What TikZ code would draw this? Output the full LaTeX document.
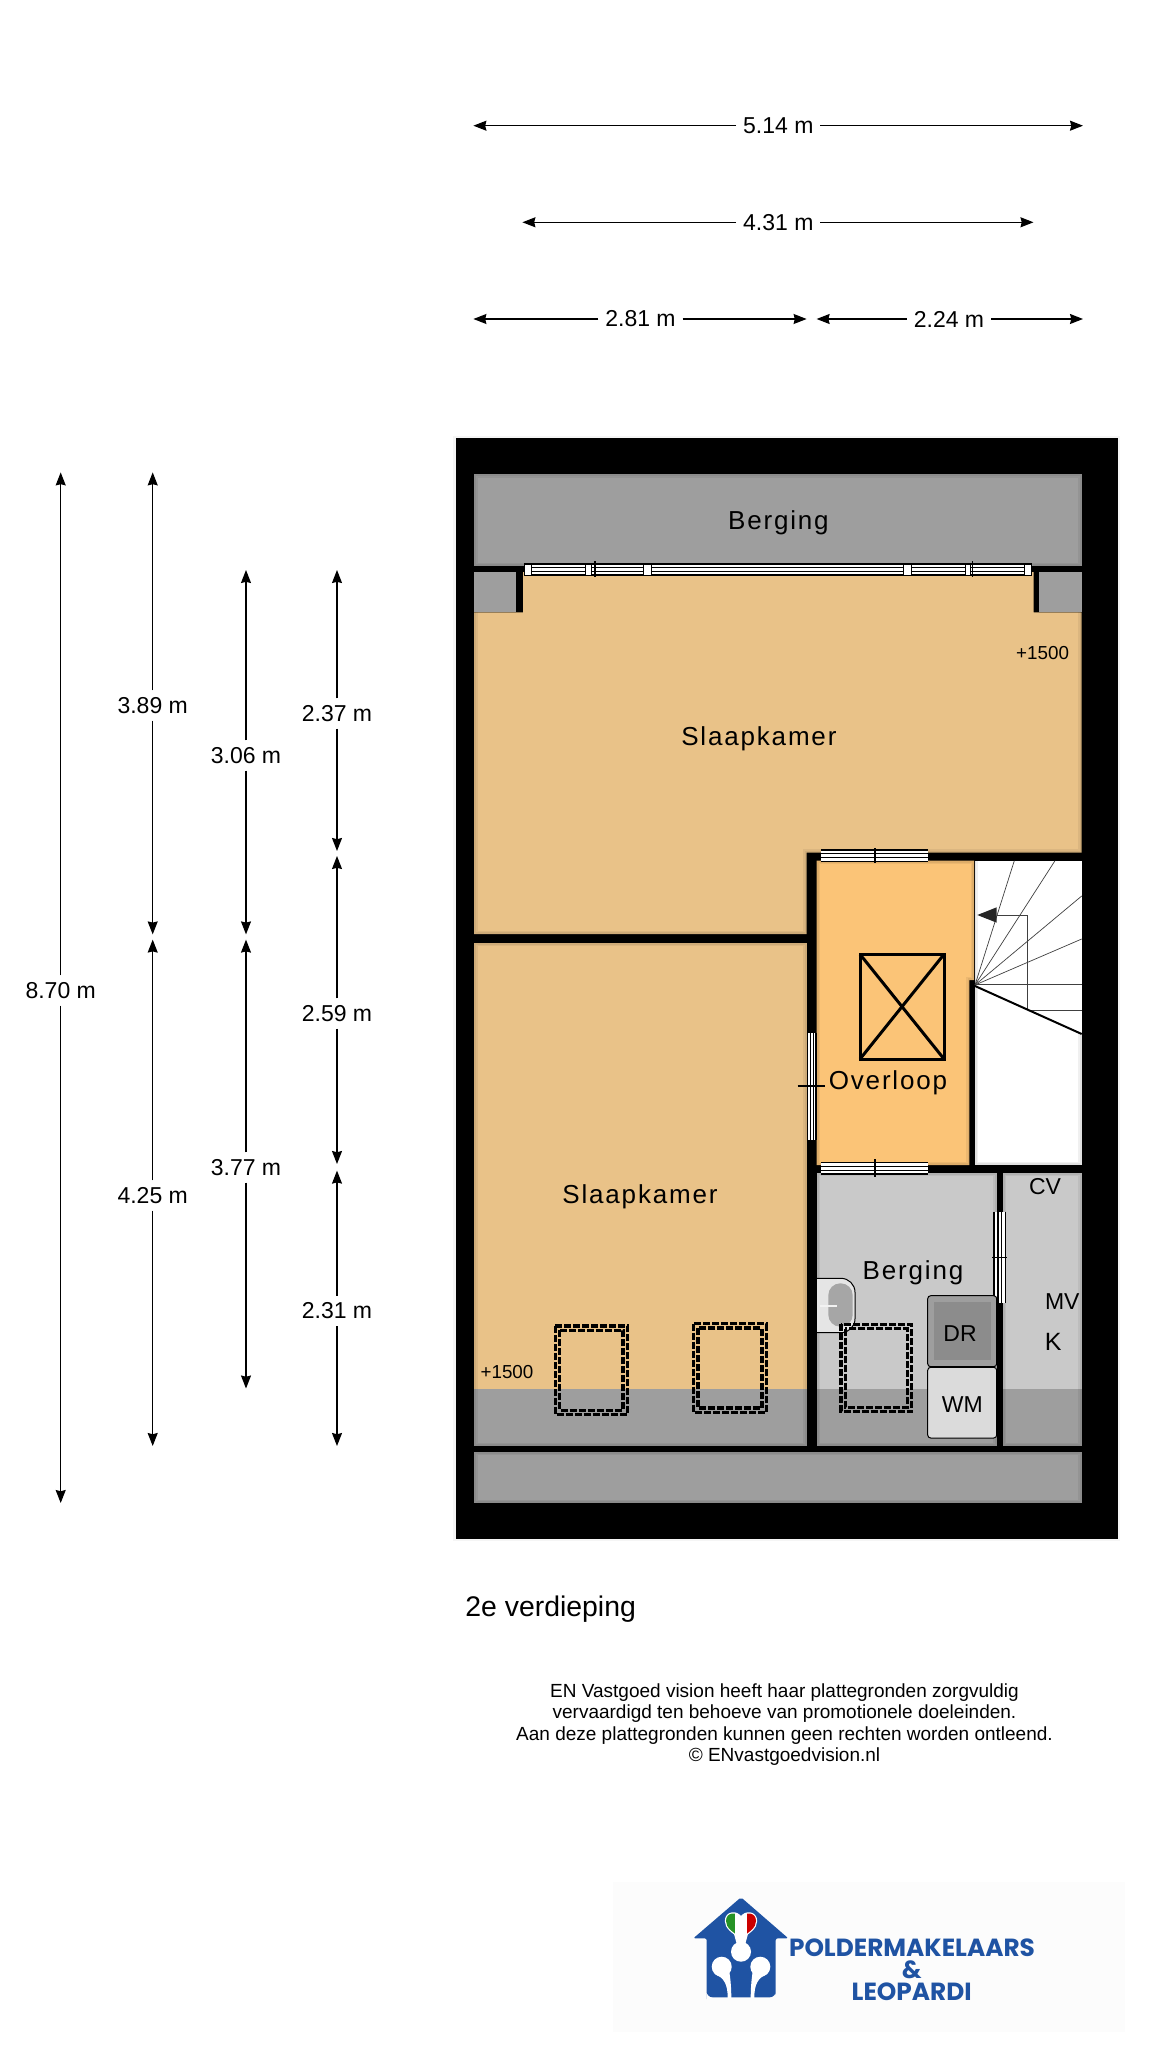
\documentclass[tikz,border=0pt]{standalone}
\usepackage{fontspec}
\usetikzlibrary{arrows.meta}
\setmainfont{Liberation Sans}
\newfontfamily\roomfont[LetterSpace=7]{Liberation Sans}
\newfontfamily\logofont{Poppins}
\definecolor{roomorange}{HTML}{E9C288}
\definecolor{halorange}{HTML}{FBC477}
\definecolor{atticgray}{HTML}{9E9E9E}
\definecolor{storegray}{HTML}{C9C9C9}
\definecolor{logoblue}{HTML}{1F53A3}
\tikzstyle{dimlabel} = [font=\fontsize{11.5}{13}\selectfont, inner xsep=3.5pt, inner ysep=3.5pt, outer sep=0pt]
\tikzstyle{dimarrow} = [-{Stealth[length=6.5pt,width=5pt,inset=.6pt]}, line width=.6pt, black]
\tikzstyle{roomlabel} = [font=\roomfont\fontsize{13}{15}\selectfont, inner sep=0pt]
\tikzstyle{kitlabel} = [font=\fontsize{11.5}{13}\selectfont, inner sep=0pt]
\tikzstyle{levellabel} = [font=\fontsize{9.4}{11}\selectfont, inner sep=0pt]
\tikzstyle{roomshade} = [draw=black, draw opacity=.06, line width=3.5pt, preaction={draw=black, draw opacity=.06, line width=1.8pt}]
\tikzstyle{winpane} = [draw=black, fill=white, line width=.5pt]
\tikzstyle{winline} = [draw=black, line width=.6pt]
\tikzstyle{hatchline} = [draw=black, line width=1.7pt, dash pattern=on 3.5pt off 1pt]
\tikzstyle{appliance} = [draw=black, line width=.5pt, rounded corners=1.5pt]
\tikzstyle{logotext} = [font=\logofont\bfseries\fontsize{12.4}{14}\selectfont, text=logoblue, inner sep=0pt, text height=8pt, text depth=0pt]

\begin{document}
\begin{tikzpicture}[x=.5pt, y=-.5pt]
		\useasboundingbox (0,0) rectangle (1152,2048);
		\fill[white] (0,0) rectangle (1152,2048);
		%outer walls, rooms are cut out of this
		\fill[black!4] (453,436) rectangle (1120,1541);
		\fill[black] (456,438.5) rectangle (1117.7,1539);

		\fill[atticgray] (474,474) rectangle (1081.7,566);
		\fill[atticgray] (474,572) rectangle (516.4,612.3);
		\fill[atticgray] (1039,572) rectangle (1081.7,612.3);
		\fill[roomorange] (474,612.3) -- (523,612.3) -- (523,572) -- (1033.5,572) -- (1033.5,612.3) -- (1081.7,612.3) -- (1081.7,852.7) -- (806.7,852.7) -- (806.7,934) -- (474,934) -- cycle;
		\fill[roomorange] (474,942.7) rectangle (806.7,1388.5);
		\fill[atticgray] (474,1388.5) rectangle (806.7,1446);
		\fill[halorange] (816.7,860.7) -- (974,860.7) -- (974,980) -- (969.3,980) -- (969.3,1165) -- (816.7,1165) -- cycle;
		\fill[white] (974.7,860.7) rectangle (1081.7,1165);
		\fill[storegray] (816.7,1172.7) rectangle (996.7,1388.7);
		\fill[atticgray] (816.7,1388.7) rectangle (996.7,1446);
		\fill[storegray] (1002.7,1172.7) rectangle (1081.7,1388.7);
		\fill[atticgray] (1002.7,1388.7) rectangle (1081.7,1446);
		\fill[atticgray] (474,1451.7) rectangle (1081.7,1503);

		%soft edges along the walls
		\draw[roomshade] (474,474) rectangle (1081.7,566);
		\draw[roomshade] (474,612.3) -- (474,934) -- (806.7,934) -- (806.7,852.7) -- (1081.7,852.7) -- (1081.7,612.3);
		\draw[roomshade] (474,942.7) rectangle (806.7,1446);
		\draw[roomshade] (816.7,860.7) -- (974,860.7) -- (974,980) -- (969.3,980) -- (969.3,1165) -- (816.7,1165) -- cycle;
		\draw[roomshade] (974.7,980) -- (974.7,1165) -- (1081.7,1165) -- (1081.7,1034);
		\draw[roomshade] (816.7,1172.7) rectangle (996.7,1446);
		\draw[roomshade] (1002.7,1172.7) rectangle (1081.7,1446);
		\draw[roomshade] (474,1451.7) rectangle (1081.7,1503);

		%window at the top
		\fill[white] (523.8,564) rectangle (1032.2,575);
		\draw[winline] (523.8,564) -- (1032.2,564);
		\draw[winline] (523.8,567.6) -- (1032.2,567.6);
		\draw[winline] (523.8,571.2) -- (1032.2,571.2);
		\draw[winline] (523.8,575) -- (1032.2,575);
		\draw[winpane] (524.6,564) rectangle (531.6,575);
		\draw[winpane] (585,564) rectangle (591,575);
		\draw[winpane] (643.5,564) rectangle (651.3,575);
		\draw[winpane] (903.8,564) rectangle (911.6,575);
		\draw[winpane] (965,564) rectangle (970,575);
		\draw[winpane] (1024,564) rectangle (1031.8,575);
		\draw[winline] (594.9,561.3) -- (594.9,576.7);
		\draw[winline] (972.8,561.3) -- (972.8,576.7);

		%windows in the inner walls
		\fill[white] (821.3,850) rectangle (928,861.3);
		\draw[winline] (821.3,850) -- (928,850);
		\draw[winline] (821.3,853.8) -- (928,853.8);
		\draw[winline] (821.3,857.5) -- (928,857.5);
		\draw[winline] (821.3,861.3) -- (928,861.3);
		\draw[winline] (875,848.3) -- (875,863.3);

		\fill[white] (821.3,1162.7) rectangle (928,1174);
		\draw[winline] (821.3,1162.7) -- (928,1162.7);
		\draw[winline] (821.3,1166.5) -- (928,1166.5);
		\draw[winline] (821.3,1170.2) -- (928,1170.2);
		\draw[winline] (821.3,1174) -- (928,1174);
		\draw[winline] (875,1159) -- (875,1177);

		\fill[white] (807.3,1032.7) rectangle (816,1140);
		\draw[winline] (807.3,1032.7) -- (807.3,1140);
		\draw[winline] (810.2,1032.7) -- (810.2,1140);
		\draw[winline] (813.1,1032.7) -- (813.1,1140);
		\draw[winline] (816,1032.7) -- (816,1140);
		\draw[winline] (797.7,1086) -- (825,1086);

		\fill[white] (994,1211.7) rectangle (1005.7,1302.7);
		\draw[winline] (994,1211.7) -- (994,1302.7);
		\draw[winline] (997.9,1211.7) -- (997.9,1302.7);
		\draw[winline] (1001.8,1211.7) -- (1001.8,1302.7);
		\draw[winline] (1005.7,1211.7) -- (1005.7,1302.7);
		\draw[winline] (992.3,1257.3) -- (1007.3,1257.3);

		%stairs
		\draw[line width=.35pt, black!75] (975,985) -- (1014.3,860.7);
		\draw[line width=.35pt, black!75] (975,985) -- (1055,860.7);
		\draw[line width=.35pt, black!75] (975,985) -- (1081.7,896);
		\draw[line width=.35pt, black!75] (975,985) -- (1081.7,939);
		\draw[line width=.35pt, black!75] (975,984.5) -- (1081.7,984.5);
		\draw[line width=.35pt, black!75] (1028,1010) -- (1081.7,1010);
		\draw[line width=.35pt, black!75] (1027.7,1010) -- (1027.7,915) -- (996.7,915);
		\fill[black!85] (977.3,915) -- (996.7,907.3) -- (996.7,922.7) -- cycle;
		\draw[line width=1pt, black] (975,986) -- (1081.7,1034);

		%loft hatch
		\draw[line width=1.5pt, black] (860,954.3) rectangle (944,1059);
		\draw[line width=1.5pt, black] (860,954.3) -- (944,1059);
		\draw[line width=1.5pt, black] (944,954.3) -- (860,1059);

		%sink
		\draw[line width=.5pt, black, fill=black!10, rounded corners=7pt] (810,1278.3) -- (855,1278.3) -- (855,1332.7) -- (810,1332.7);
		\fill[black!35, rounded corners=6pt] (828.3,1283.3) rectangle (852.7,1326.7);
		\fill[black!5] (820,1304.5) rectangle (836.7,1307);
		\fill[black] (806.7,1270) rectangle (816.7,1340);

		%dryer and washer
		\draw[appliance, fill=black!38] (927.7,1295.7) rectangle (996.7,1366.7);
		\fill[black!45] (934,1302) rectangle (991,1360);
		\draw[appliance, fill=black!14] (927.7,1367.3) rectangle (996.7,1438);

		%roof windows
		\draw[hatchline] (555.3,1326) rectangle (627.3,1414.7);
		\draw[hatchline] (559.7,1330.4) rectangle (622.9,1410.3);
		\draw[hatchline] (693.7,1323.7) rectangle (766.3,1412.3);
		\draw[hatchline] (698.1,1328.1) rectangle (761.9,1407.9);
		\draw[hatchline] (841,1324.3) rectangle (911.7,1411.7);
		\draw[hatchline] (845.4,1328.7) rectangle (907.3,1407.3);

		%rooms
		\node[roomlabel] (bergingtop) at (778.4,522.5) {Berging};
		\node[roomlabel] (slaaptop) at (758.9,739) {Slaapkamer};
		\node[roomlabel] (slaapbottom) at (640,1197) {Slaapkamer};
		\node[roomlabel] (overloop) at (888,1082.5) {Overloop};
		\node[roomlabel] (bergingsmall) at (913,1272.5) {Berging};
		\node[levellabel] (leveltop) at (1042.6,652.7) {+1500};
		\node[levellabel] (levelbottom) at (507,1372) {+1500};
		\node[kitlabel] (cv) at (1045,1186.7) {CV};
		\node[kitlabel] (mv) at (1062.3,1301.7) {MV};
		\node[kitlabel, font=\fontsize{12.5}{14}\selectfont] (kast) at (1053.3,1341.7) {K};
		\node[kitlabel] (dr) at (960,1333.3) {DR};
		\node[kitlabel] (wm) at (962.3,1404.3) {WM};

		%widths
		\node[dimlabel] (wtop) at (778.3,125.7) {5.14 m};
		\coordinate (wtopl) at (473.4,125.7);
		\coordinate (wtopr) at (1083,125.7);
		\draw[dimarrow] (wtop) -- (wtopl);
		\draw[dimarrow] (wtop) -- (wtopr);
		\node[dimlabel] (wmid) at (778.3,222.3) {4.31 m};
		\coordinate (wmidl) at (522.4,222.3);
		\coordinate (wmidr) at (1033.5,222.3);
		\draw[dimarrow] (wmid) -- (wmidl);
		\draw[dimarrow] (wmid) -- (wmidr);
		\node[dimlabel] (wleft) at (640.5,319) {2.81 m};
		\coordinate (wleftl) at (473.4,319);
		\coordinate (wleftr) at (806.6,319);
		\draw[dimarrow] (wleft) -- (wleftl);
		\draw[dimarrow] (wleft) -- (wleftr);
		\node[dimlabel] (wright) at (949,319) {2.24 m};
		\coordinate (wrightl) at (816.6,319);
		\coordinate (wrightr) at (1083,319);
		\draw[dimarrow] (wright) -- (wrightl);
		\draw[dimarrow] (wright) -- (wrightr);

		%heights
		\node[dimlabel] (htotal) at (60.7,990.5) {8.70 m};
		\coordinate (htotalt) at (60.7,472.4);
		\coordinate (htotalb) at (60.7,1503);
		\draw[dimarrow] (htotal) -- (htotalt);
		\draw[dimarrow] (htotal) -- (htotalb);
		\node[dimlabel] (hoa) at (152.7,705.5) {3.89 m};
		\coordinate (hoat) at (152.7,472.4);
		\coordinate (hoab) at (152.7,934.4);
		\draw[dimarrow] (hoa) -- (hoat);
		\draw[dimarrow] (hoa) -- (hoab);
		\node[dimlabel] (hob) at (152.7,1195.5) {4.25 m};
		\coordinate (hobt) at (152.7,939.6);
		\coordinate (hobb) at (152.7,1446);
		\draw[dimarrow] (hob) -- (hobt);
		\draw[dimarrow] (hob) -- (hobb);
		\node[dimlabel] (hta) at (246,755.5) {3.06 m};
		\coordinate (htat) at (246,570);
		\coordinate (htab) at (246,934.4);
		\draw[dimarrow] (hta) -- (htat);
		\draw[dimarrow] (hta) -- (htab);
		\node[dimlabel] (htb) at (246,1167.5) {3.77 m};
		\coordinate (htbt) at (246,939.6);
		\coordinate (htbb) at (246,1388.5);
		\draw[dimarrow] (htb) -- (htbt);
		\draw[dimarrow] (htb) -- (htbb);
		\node[dimlabel] (hra) at (337,713.5) {2.37 m};
		\coordinate (hrat) at (337,570);
		\coordinate (hrab) at (337,851);
		\draw[dimarrow] (hra) -- (hrat);
		\draw[dimarrow] (hra) -- (hrab);
		\node[dimlabel] (hrb) at (337,1013.5) {2.59 m};
		\coordinate (hrbt) at (337,856);
		\coordinate (hrbb) at (337,1164);
		\draw[dimarrow] (hrb) -- (hrbt);
		\draw[dimarrow] (hrb) -- (hrbb);
		\node[dimlabel] (hrc) at (337,1311) {2.31 m};
		\coordinate (hrct) at (337,1170.6);
		\coordinate (hrcb) at (337,1446);
		\draw[dimarrow] (hrc) -- (hrct);
		\draw[dimarrow] (hrc) -- (hrcb);

		%caption and notice
		\node[anchor=west, inner sep=0pt, font=\fontsize{14.2}{17}\selectfont] (floor) at (465,1609.5) {2e verdieping};
		\node[align=center, inner sep=0pt, font=\fontsize{9.5}{10.6}\selectfont] (notice) at (784.5,1724.5) {EN Vastgoed vision heeft haar plattegronden zorgvuldig\\
			vervaardigd ten behoeve van promotionele doeleinden.\\
			Aan deze plattegronden kunnen geen rechten worden ontleend.\\
			© ENvastgoedvision.nl};

		%logo
		\fill[black!1] (613,1882) rectangle (1125,2032);
		\fill[logoblue, rounded corners=1pt] (741,1897.3) -- (788.3,1938.3) -- (775.7,1938.3) -- (775.7,1993) [rounded corners=3pt] -- (775.7,1997.3) -- (706.7,1997.3) -- (706.7,1993) [rounded corners=1pt] -- (706.7,1938.3) -- (693.3,1938.3) -- cycle;
		\fill[white] (741,1951.7) circle (10);
		\fill[white] (721.7,1966.7) circle (10);
		\fill[white] (760.3,1966.7) circle (10);
		\fill[white] (715,1974) .. controls (724,1978) and (727.7,1984) .. (727.7,1998) -- (731.3,1998) .. controls (731.3,1980) and (729,1972) .. (728,1960) -- cycle;
		\fill[white] (767,1974) .. controls (758,1978) and (754.3,1984) .. (754.3,1998) -- (750.7,1998) .. controls (750.7,1980) and (753,1972) .. (754,1960) -- cycle;
		\fill[white] (734,1934) -- (748,1934) -- (745,1945) -- (737,1945) -- cycle;
		\draw[white, line width=1.2pt, fill=white] (741,1938) .. controls (733,1932) and (726,1928) .. (726,1921) .. controls (726,1912) and (737,1911) .. (741,1918) .. controls (745,1911) and (756,1912) .. (756,1921) .. controls (756,1928) and (749,1932) .. (741,1938);
		\begin{scope}
			\clip (741,1938) .. controls (733,1932) and (726,1928) .. (726,1921) .. controls (726,1912) and (737,1911) .. (741,1918) .. controls (745,1911) and (756,1912) .. (756,1921) .. controls (756,1928) and (749,1932) .. (741,1938);
			\fill[green!50!black!85] (724,1910) rectangle (735,1940);
			\fill[red!80!black] (746.7,1910) rectangle (758,1940);
		\end{scope}
		\node[logotext] (logoa) at (912,1948) {POLDERMAKELAARS};
		\node[logotext] (logob) at (911.7,1970) {\&};
		\node[logotext] (logoc) at (911.7,1992) {LEOPARDI};
\end{tikzpicture}
\end{document}
